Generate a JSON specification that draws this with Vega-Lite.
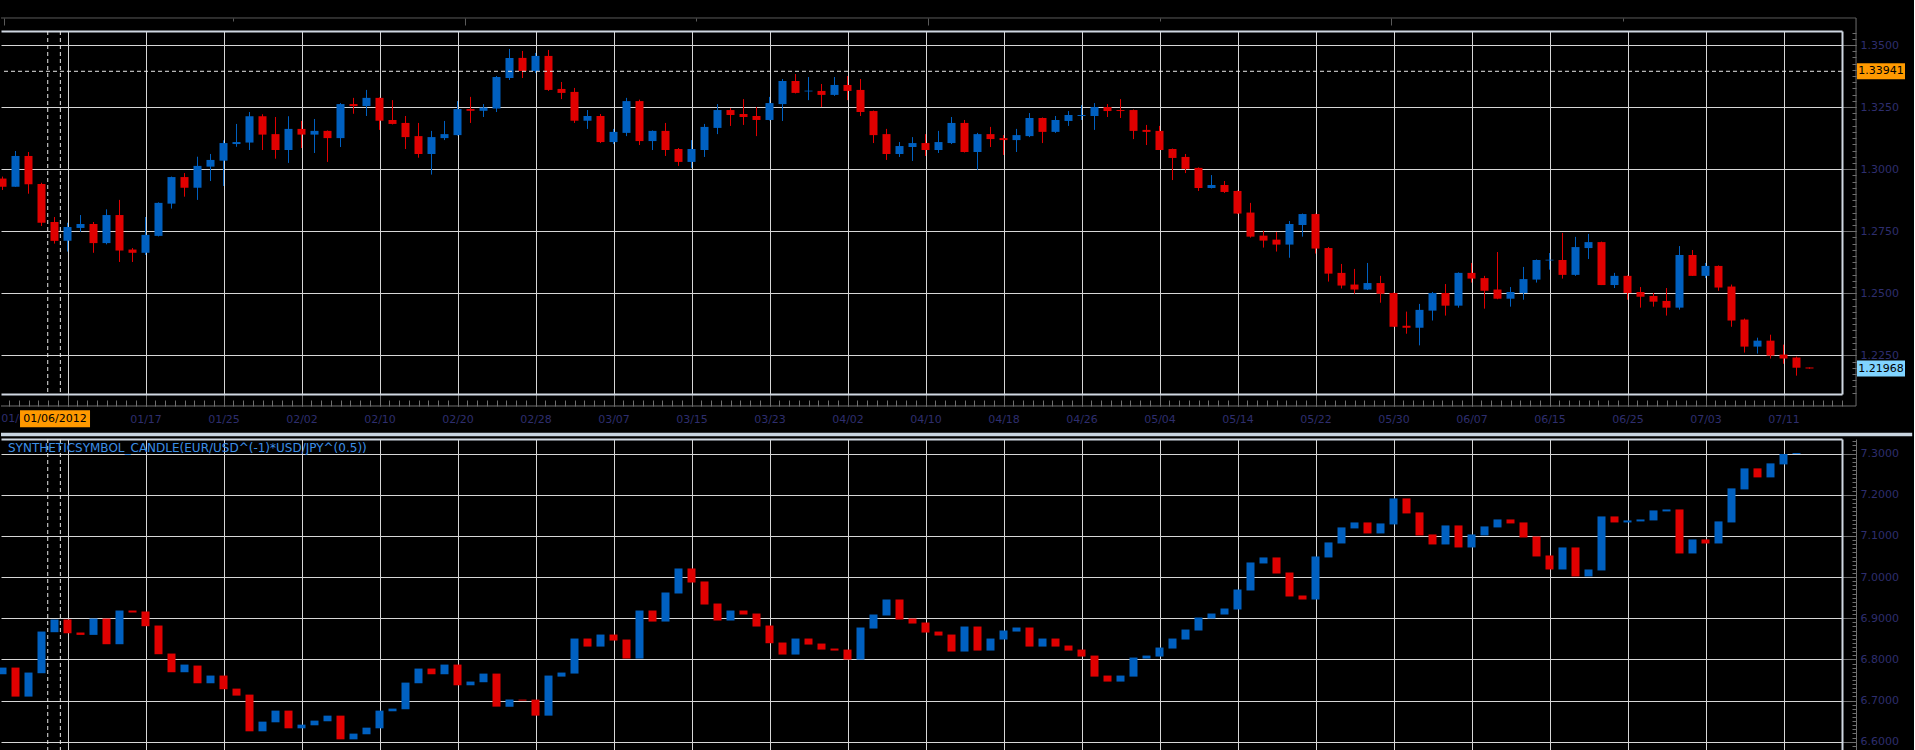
{
"$schema":"https://vega.github.io/schema/vega-lite/v6.json",
"background":"#000000",
"padding":{"left":-30,"top":17,"right":0,"bottom":0},
"config":{"view":{"stroke":null},"text":{"font":"DejaVu Sans"},"axis":{"labelFont":"DejaVu Sans","labelFontSize":11,"labelColor":"#2e2e6e","labelFlush":false,"labelOverlap":false}},
"datasets":{
"top":[
{"i":0,"o":1.2962,"h":1.297,"l":1.2916,"c":1.2929},
{"i":1,"o":1.2929,"h":1.3073,"l":1.2929,"c":1.3053},
{"i":2,"o":1.3053,"h":1.3069,"l":1.2901,"c":1.2939},
{"i":3,"o":1.294,"h":1.2945,"l":1.2771,"c":1.2784},
{"i":4,"o":1.2787,"h":1.2807,"l":1.27,"c":1.2711},
{"i":5,"o":1.2711,"h":1.2784,"l":1.2668,"c":1.2767},
{"i":6,"o":1.2763,"h":1.2815,"l":1.2747,"c":1.2779},
{"i":7,"o":1.2779,"h":1.2787,"l":1.2663,"c":1.2702},
{"i":8,"o":1.2702,"h":1.2838,"l":1.2697,"c":1.2815},
{"i":9,"o":1.2815,"h":1.2876,"l":1.2626,"c":1.2672},
{"i":10,"o":1.2676,"h":1.2682,"l":1.2626,"c":1.2663},
{"i":11,"o":1.2663,"h":1.2807,"l":1.2654,"c":1.2735},
{"i":12,"o":1.2731,"h":1.2866,"l":1.2729,"c":1.2864},
{"i":13,"o":1.2861,"h":1.297,"l":1.2841,"c":1.2968},
{"i":14,"o":1.2968,"h":1.2984,"l":1.2889,"c":1.2925},
{"i":15,"o":1.2925,"h":1.305,"l":1.2876,"c":1.3013},
{"i":16,"o":1.301,"h":1.3061,"l":1.2952,"c":1.3037},
{"i":17,"o":1.3034,"h":1.3116,"l":1.2932,"c":1.3105},
{"i":18,"o":1.3101,"h":1.3182,"l":1.309,"c":1.3109},
{"i":19,"o":1.3107,"h":1.323,"l":1.3077,"c":1.3213},
{"i":20,"o":1.3213,"h":1.3221,"l":1.3077,"c":1.3139},
{"i":21,"o":1.3141,"h":1.321,"l":1.3042,"c":1.3077},
{"i":22,"o":1.3077,"h":1.3213,"l":1.3025,"c":1.3162},
{"i":23,"o":1.3162,"h":1.3194,"l":1.3085,"c":1.3139},
{"i":24,"o":1.3139,"h":1.3202,"l":1.3065,"c":1.3154},
{"i":25,"o":1.3154,"h":1.3156,"l":1.3029,"c":1.3125},
{"i":26,"o":1.3125,"h":1.3266,"l":1.3089,"c":1.3262},
{"i":27,"o":1.3262,"h":1.3287,"l":1.3223,"c":1.3254},
{"i":28,"o":1.3254,"h":1.3319,"l":1.3214,"c":1.3287},
{"i":29,"o":1.3287,"h":1.3289,"l":1.3158,"c":1.3195},
{"i":30,"o":1.3198,"h":1.3278,"l":1.318,"c":1.3182},
{"i":31,"o":1.3186,"h":1.3214,"l":1.3081,"c":1.3129},
{"i":32,"o":1.3133,"h":1.3186,"l":1.3046,"c":1.3061},
{"i":33,"o":1.3061,"h":1.3154,"l":1.2978,"c":1.3129},
{"i":34,"o":1.3125,"h":1.3194,"l":1.3117,"c":1.3141},
{"i":35,"o":1.3137,"h":1.3274,"l":1.3135,"c":1.3242},
{"i":36,"o":1.3242,"h":1.3291,"l":1.3186,"c":1.3235},
{"i":37,"o":1.3235,"h":1.3262,"l":1.321,"c":1.3248},
{"i":38,"o":1.3244,"h":1.3375,"l":1.323,"c":1.3371},
{"i":39,"o":1.3367,"h":1.3484,"l":1.3359,"c":1.3448},
{"i":40,"o":1.3448,"h":1.3476,"l":1.3367,"c":1.3395},
{"i":41,"o":1.3395,"h":1.3468,"l":1.3387,"c":1.3456},
{"i":42,"o":1.3456,"h":1.348,"l":1.3315,"c":1.3319},
{"i":43,"o":1.3323,"h":1.3351,"l":1.3282,"c":1.3307},
{"i":44,"o":1.3311,"h":1.3327,"l":1.3186,"c":1.3195},
{"i":45,"o":1.3195,"h":1.3238,"l":1.3162,"c":1.3214},
{"i":46,"o":1.3214,"h":1.3222,"l":1.3105,"c":1.3109},
{"i":47,"o":1.3109,"h":1.3162,"l":1.3101,"c":1.315},
{"i":48,"o":1.3146,"h":1.3287,"l":1.3133,"c":1.3274},
{"i":49,"o":1.3274,"h":1.328,"l":1.3097,"c":1.3113},
{"i":50,"o":1.3113,"h":1.3156,"l":1.3077,"c":1.3154},
{"i":51,"o":1.3154,"h":1.3186,"l":1.3053,"c":1.3077},
{"i":52,"o":1.3081,"h":1.3085,"l":1.3013,"c":1.3029},
{"i":53,"o":1.3029,"h":1.3117,"l":1.3005,"c":1.3081},
{"i":54,"o":1.3077,"h":1.3182,"l":1.3049,"c":1.317},
{"i":55,"o":1.3166,"h":1.3262,"l":1.3141,"c":1.3238},
{"i":56,"o":1.3238,"h":1.3246,"l":1.3174,"c":1.3218},
{"i":57,"o":1.3222,"h":1.3282,"l":1.3178,"c":1.321},
{"i":58,"o":1.3214,"h":1.325,"l":1.3133,"c":1.3198},
{"i":59,"o":1.3198,"h":1.3291,"l":1.3196,"c":1.3266},
{"i":60,"o":1.3262,"h":1.3363,"l":1.3194,"c":1.3355},
{"i":61,"o":1.3355,"h":1.3383,"l":1.3305,"c":1.3307},
{"i":62,"o":1.3313,"h":1.3371,"l":1.3278,"c":1.3316},
{"i":63,"o":1.3315,"h":1.3343,"l":1.325,"c":1.3299},
{"i":64,"o":1.3299,"h":1.3371,"l":1.3295,"c":1.3339},
{"i":65,"o":1.3339,"h":1.3375,"l":1.3278,"c":1.3315},
{"i":66,"o":1.3319,"h":1.3363,"l":1.3214,"c":1.323},
{"i":67,"o":1.3234,"h":1.3236,"l":1.3105,"c":1.3137},
{"i":68,"o":1.3141,"h":1.3162,"l":1.3037,"c":1.3061},
{"i":69,"o":1.3061,"h":1.3109,"l":1.3049,"c":1.3093},
{"i":70,"o":1.3089,"h":1.3129,"l":1.3033,"c":1.3105},
{"i":71,"o":1.3105,"h":1.3141,"l":1.3053,"c":1.3077},
{"i":72,"o":1.3077,"h":1.3154,"l":1.3065,"c":1.3109},
{"i":73,"o":1.3105,"h":1.321,"l":1.3101,"c":1.3186},
{"i":74,"o":1.3186,"h":1.3198,"l":1.3067,"c":1.3069},
{"i":75,"o":1.3069,"h":1.3146,"l":1.2997,"c":1.3141},
{"i":76,"o":1.3141,"h":1.317,"l":1.3089,"c":1.3121},
{"i":77,"o":1.3125,"h":1.3137,"l":1.3057,"c":1.3117},
{"i":78,"o":1.3117,"h":1.3162,"l":1.3069,"c":1.3137},
{"i":79,"o":1.3133,"h":1.3226,"l":1.3129,"c":1.3206},
{"i":80,"o":1.3206,"h":1.3208,"l":1.3105,"c":1.315},
{"i":81,"o":1.315,"h":1.3214,"l":1.3146,"c":1.3198},
{"i":82,"o":1.3194,"h":1.3234,"l":1.3174,"c":1.3218},
{"i":83,"o":1.3214,"h":1.3258,"l":1.3198,"c":1.3218},
{"i":84,"o":1.3214,"h":1.3266,"l":1.3158,"c":1.325},
{"i":85,"o":1.325,"h":1.3262,"l":1.321,"c":1.3234},
{"i":86,"o":1.3238,"h":1.3282,"l":1.3206,"c":1.3234},
{"i":87,"o":1.3238,"h":1.324,"l":1.3121,"c":1.3154},
{"i":88,"o":1.3158,"h":1.3178,"l":1.3097,"c":1.315},
{"i":89,"o":1.3154,"h":1.3174,"l":1.3077,"c":1.3077},
{"i":90,"o":1.3081,"h":1.3083,"l":1.2956,"c":1.3045},
{"i":91,"o":1.3049,"h":1.3061,"l":1.2984,"c":1.3001},
{"i":92,"o":1.3005,"h":1.3007,"l":1.2912,"c":1.2924},
{"i":93,"o":1.2924,"h":1.2976,"l":1.2922,"c":1.2936},
{"i":94,"o":1.2936,"h":1.2952,"l":1.2904,"c":1.2908},
{"i":95,"o":1.2912,"h":1.2914,"l":1.2819,"c":1.2821},
{"i":96,"o":1.2825,"h":1.2864,"l":1.2724,"c":1.2728},
{"i":97,"o":1.2732,"h":1.2752,"l":1.2684,"c":1.2712},
{"i":98,"o":1.2716,"h":1.2747,"l":1.2668,"c":1.2696},
{"i":99,"o":1.2696,"h":1.2791,"l":1.2643,"c":1.2779},
{"i":100,"o":1.2775,"h":1.2821,"l":1.2728,"c":1.2819},
{"i":101,"o":1.2819,"h":1.2821,"l":1.266,"c":1.268},
{"i":102,"o":1.2682,"h":1.2686,"l":1.2547,"c":1.2579},
{"i":103,"o":1.2582,"h":1.2618,"l":1.2519,"c":1.2531},
{"i":104,"o":1.2535,"h":1.2598,"l":1.2498,"c":1.2515},
{"i":105,"o":1.2515,"h":1.2622,"l":1.2513,"c":1.2541},
{"i":106,"o":1.2541,"h":1.257,"l":1.2462,"c":1.2498},
{"i":107,"o":1.2501,"h":1.2503,"l":1.2365,"c":1.2365},
{"i":108,"o":1.2369,"h":1.2426,"l":1.2337,"c":1.2361},
{"i":109,"o":1.2361,"h":1.2457,"l":1.229,"c":1.2433},
{"i":110,"o":1.243,"h":1.2505,"l":1.239,"c":1.2501},
{"i":111,"o":1.2501,"h":1.2537,"l":1.241,"c":1.245},
{"i":112,"o":1.245,"h":1.2584,"l":1.2442,"c":1.2582},
{"i":113,"o":1.2582,"h":1.2622,"l":1.2543,"c":1.2559},
{"i":114,"o":1.2561,"h":1.257,"l":1.2438,"c":1.251},
{"i":115,"o":1.2515,"h":1.2666,"l":1.2476,"c":1.2478},
{"i":116,"o":1.2478,"h":1.2525,"l":1.2446,"c":1.2505},
{"i":117,"o":1.2501,"h":1.2606,"l":1.2474,"c":1.2557},
{"i":118,"o":1.2555,"h":1.2636,"l":1.2543,"c":1.2634},
{"i":119,"o":1.2632,"h":1.2662,"l":1.2595,"c":1.2635},
{"i":120,"o":1.2634,"h":1.2743,"l":1.2559,"c":1.2574},
{"i":121,"o":1.2574,"h":1.2727,"l":1.257,"c":1.2686},
{"i":122,"o":1.2682,"h":1.2739,"l":1.2638,"c":1.2706},
{"i":123,"o":1.2706,"h":1.2708,"l":1.2533,"c":1.2533},
{"i":124,"o":1.2533,"h":1.2582,"l":1.2521,"c":1.257},
{"i":125,"o":1.257,"h":1.2572,"l":1.2474,"c":1.2501},
{"i":126,"o":1.2505,"h":1.2525,"l":1.2442,"c":1.2486},
{"i":127,"o":1.2489,"h":1.2501,"l":1.2446,"c":1.2466},
{"i":128,"o":1.2469,"h":1.2521,"l":1.241,"c":1.2442},
{"i":129,"o":1.2442,"h":1.269,"l":1.2434,"c":1.2654},
{"i":130,"o":1.2654,"h":1.2674,"l":1.257,"c":1.257},
{"i":131,"o":1.257,"h":1.2622,"l":1.2561,"c":1.261},
{"i":132,"o":1.261,"h":1.2612,"l":1.251,"c":1.2523},
{"i":133,"o":1.2527,"h":1.2535,"l":1.2365,"c":1.239},
{"i":134,"o":1.2394,"h":1.2398,"l":1.2261,"c":1.2285},
{"i":135,"o":1.2285,"h":1.2321,"l":1.2257,"c":1.2309},
{"i":136,"o":1.2309,"h":1.2333,"l":1.2237,"c":1.2249},
{"i":137,"o":1.2253,"h":1.2293,"l":1.2216,"c":1.2237},
{"i":138,"o":1.2241,"h":1.2245,"l":1.2168,"c":1.22},
{"i":139,"o":1.2201,"h":1.2201,"l":1.2196,"c":1.21968}
],
"bot":[
{"i":0,"o":6.7639,"c":6.7801},{"i":1,"o":6.7801,"c":6.7096},{"i":2,"o":6.7096,"c":6.768},{"i":3,"o":6.7664,"c":6.8677},
{"i":4,"o":6.8661,"c":6.8969},{"i":5,"o":6.8969,"c":6.8637},{"i":6,"o":6.8653,"c":6.8596},{"i":7,"o":6.8596,"c":6.8994},
{"i":8,"o":6.8994,"c":6.8369},{"i":9,"o":6.8369,"c":6.9188},{"i":10,"o":6.9188,"c":6.914},{"i":11,"o":6.9164,"c":6.8807},
{"i":12,"o":6.8823,"c":6.8126},{"i":13,"o":6.8142,"c":6.7688},{"i":14,"o":6.7688,"c":6.7874},{"i":15,"o":6.785,"c":6.742},
{"i":16,"o":6.742,"c":6.7607},{"i":17,"o":6.7607,"c":6.7274},{"i":18,"o":6.729,"c":6.712},{"i":19,"o":6.7144,"c":6.6252},
{"i":20,"o":6.6252,"c":6.6487},{"i":21,"o":6.6471,"c":6.6755},{"i":22,"o":6.6755,"c":6.6325},{"i":23,"o":6.6325,"c":6.6414},
{"i":24,"o":6.6398,"c":6.6512},{"i":25,"o":6.6496,"c":6.6633},{"i":26,"o":6.6633,"c":6.6057},{"i":27,"o":6.6057,"c":6.6196},
{"i":28,"o":6.618,"c":6.6341},{"i":29,"o":6.6325,"c":6.6755},{"i":30,"o":6.6739,"c":6.6804},{"i":31,"o":6.6788,"c":6.7436},
{"i":32,"o":6.742,"c":6.7777},{"i":33,"o":6.7777,"c":6.7639},{"i":34,"o":6.7639,"c":6.7874},{"i":35,"o":6.7874,"c":6.7371},
{"i":36,"o":6.7371,"c":6.7461},{"i":37,"o":6.7445,"c":6.7655},{"i":38,"o":6.7655,"c":6.6852},{"i":39,"o":6.6852,"c":6.7023},
{"i":40,"o":6.7023,"c":6.6999},{"i":41,"o":6.7023,"c":6.6633},{"i":42,"o":6.6633,"c":6.7607},{"i":43,"o":6.7582,"c":6.768},
{"i":44,"o":6.7656,"c":6.8507},{"i":45,"o":6.8507,"c":6.8312},{"i":46,"o":6.8312,"c":6.8604},{"i":47,"o":6.8604,"c":6.8458},
{"i":48,"o":6.8483,"c":6.802},{"i":49,"o":6.802,"c":6.9188},{"i":50,"o":6.9188,"c":6.892},{"i":51,"o":6.892,"c":6.9626},
{"i":52,"o":6.9602,"c":7.021},{"i":53,"o":7.021,"c":6.9869},{"i":54,"o":6.9894,"c":6.9334},{"i":55,"o":6.9358,"c":6.8945},
{"i":56,"o":6.8945,"c":6.9188},{"i":57,"o":6.9188,"c":6.9091},{"i":58,"o":6.9115,"c":6.8799},{"i":59,"o":6.8823,"c":6.8393},
{"i":60,"o":6.841,"c":6.8118},{"i":61,"o":6.8118,"c":6.8507},{"i":62,"o":6.8507,"c":6.8361},{"i":63,"o":6.8385,"c":6.8239},
{"i":64,"o":6.8264,"c":6.8215},{"i":65,"o":6.8239,"c":6.7996},{"i":66,"o":6.7996,"c":6.8775},{"i":67,"o":6.875,"c":6.9091},
{"i":68,"o":6.9067,"c":6.9456},{"i":69,"o":6.9456,"c":6.8969},{"i":70,"o":6.8994,"c":6.8872},{"i":71,"o":6.8896,"c":6.8653},
{"i":72,"o":6.8677,"c":6.858},{"i":73,"o":6.8604,"c":6.8191},{"i":74,"o":6.8191,"c":6.8799},{"i":75,"o":6.8799,"c":6.8215},
{"i":76,"o":6.8215,"c":6.8507},{"i":77,"o":6.8483,"c":6.8702},{"i":78,"o":6.8677,"c":6.8775},{"i":79,"o":6.8775,"c":6.8312},
{"i":80,"o":6.8312,"c":6.8507},{"i":81,"o":6.8507,"c":6.8312},{"i":82,"o":6.8337,"c":6.8215},{"i":83,"o":6.8239,"c":6.8069},
{"i":84,"o":6.8093,"c":6.7582},{"i":85,"o":6.7607,"c":6.7461},{"i":86,"o":6.7461,"c":6.7607},{"i":87,"o":6.7582,"c":6.8045},
{"i":88,"o":6.802,"c":6.8093},{"i":89,"o":6.8069,"c":6.8288},{"i":90,"o":6.8264,"c":6.8507},{"i":91,"o":6.8483,"c":6.8726},
{"i":92,"o":6.8702,"c":6.9018},{"i":93,"o":6.8994,"c":6.9115},{"i":94,"o":6.9091,"c":6.9237},{"i":95,"o":6.9213,"c":6.9699},
{"i":96,"o":6.9675,"c":7.0356},{"i":97,"o":7.0332,"c":7.0478},{"i":98,"o":7.0478,"c":7.0088},{"i":99,"o":7.0112,"c":6.9529},
{"i":100,"o":6.9553,"c":6.9456},{"i":101,"o":6.9456,"c":7.0502},{"i":102,"o":7.0478,"c":7.0843},{"i":103,"o":7.0818,"c":7.1208},
{"i":104,"o":7.1184,"c":7.1329},{"i":105,"o":7.1329,"c":7.1062},{"i":106,"o":7.1062,"c":7.1305},{"i":107,"o":7.1281,"c":7.1913},
{"i":108,"o":7.1913,"c":7.1548},{"i":109,"o":7.1573,"c":7.1013},{"i":110,"o":7.1037,"c":7.0794},{"i":111,"o":7.0794,"c":7.1256},
{"i":112,"o":7.1256,"c":7.0721},{"i":113,"o":7.0721,"c":7.1037},{"i":114,"o":7.1013,"c":7.1232},{"i":115,"o":7.1208,"c":7.1402},
{"i":116,"o":7.1402,"c":7.1305},{"i":117,"o":7.1329,"c":7.0964},{"i":118,"o":7.0989,"c":7.0502},{"i":119,"o":7.0526,"c":7.0186},
{"i":120,"o":7.0186,"c":7.0721},{"i":121,"o":7.0721,"c":7.0016},{"i":122,"o":7.0016,"c":7.0186},{"i":123,"o":7.0162,"c":7.1475},
{"i":124,"o":7.1475,"c":7.1329},{"i":125,"o":7.1329,"c":7.1378},{"i":126,"o":7.1354,"c":7.1402},{"i":127,"o":7.1378,"c":7.1621},
{"i":128,"o":7.1597,"c":7.1645},{"i":129,"o":7.1645,"c":7.0575},{"i":130,"o":7.0575,"c":7.0916},{"i":131,"o":7.0916,"c":7.0818},
{"i":132,"o":7.0818,"c":7.1354},{"i":133,"o":7.1329,"c":7.2157},{"i":134,"o":7.2132,"c":7.2643},{"i":135,"o":7.2643,"c":7.2424},
{"i":136,"o":7.2424,"c":7.2765},{"i":137,"o":7.274,"c":7.2992},{"i":138,"o":7.2992,"c":7.3016}
]
},
"spacing":45,
"bounds":"flush",
"vconcat":[
{
"width":1841,"height":363,
"resolve":{"axis":{"x":"independent","y":"independent"}},
"layer":[
{"data":{"values":[{"s":1}]},
"mark":{"type":"rule","strokeWidth":1,"color":"#5a5a5a"},
"encoding":{
"x":{"datum":-0.1154,"type":"quantitative","scale":{"domain":[-0.1154,141.5],"nice":false,"zero":false,"padding":0},"axis":null},
"x2":{"datum":142.58},
"y":{"datum":1.36088,"type":"quantitative","scale":{"domain":[1.20941,1.35564],"nice":false,"zero":false,"padding":0},"axis":null}
}},
{"data":{"values":[{"s":1}]},
"mark":{"type":"rule","strokeWidth":1,"color":"#6e6e6e"},
"encoding":{
"x":{"datum":-0.1154,"type":"quantitative","axis":null},
"x2":{"datum":142.58},
"y":{"datum":1.20458,"type":"quantitative","axis":null}
}},
{"data":{"values":[{"s":1}]},
"mark":{"type":"rule","strokeWidth":1,"color":"#6e6e6e"},
"encoding":{
"x":{"datum":142.58,"type":"quantitative","axis":null},
"y":{"datum":1.36088,"type":"quantitative","axis":null},
"y2":{"datum":1.20458}
}},
{"data":{"name":"top"},
"mark":{"type":"rule","strokeWidth":1},
"encoding":{
"x":{"field":"i","type":"quantitative",
"axis":{"orient":"bottom","offset":0,"values":[5,11,17,23,29,35,41,47,53,59,65,71,77,83,89,95,101,107,113,119,125,131,137],"grid":true,"gridColor":"#d6d6d6","gridWidth":1,"ticks":true,"tickSize":12,"tickColor":"#6e6e6e","domain":true,"domainColor":"#d0d8e2","domainWidth":2,"labelPadding":7,"labelExpr":"['01/09','01/17','01/25','02/02','02/10','02/20','02/28','03/07','03/15','03/23','04/02','04/10','04/18','04/26','05/04','05/14','05/22','05/30','06/07','06/15','06/25','07/03','07/11'][round((datum.value-5)/6)]","title":null}},
"y":{"field":"l","type":"quantitative",
"axis":{"orient":"right","offset":0,"values":[1.225,1.25,1.275,1.3,1.325,1.35],"format":".4f","grid":true,"gridColor":"#d6d6d6","gridWidth":1,"ticks":true,"tickSize":14,"tickColor":"#6e6e6e","domain":true,"domainColor":"#d0d8e2","domainWidth":2,"labelPadding":4,"title":null}},
"y2":{"field":"h"},
"color":{"condition":{"test":"datum.c >= datum.o","value":"#0060c0"},"value":"#e00000"}
}},
{"data":{"name":"top"},
"mark":{"type":"bar","size":8,"minBandSize":1},
"encoding":{
"x":{"field":"i","type":"quantitative",
"axis":{"orient":"bottom","offset":6,"values":[0.5,1.25,2,2.75,3.5,4.25,5,5.75,6.5,7.25,8,8.75,9.5,10.25,11,11.75,12.5,13.25,14,14.75,15.5,16.25,17,17.75,18.5,19.25,20,20.75,21.5,22.25,23,23.75,24.5,25.25,26,26.75,27.5,28.25,29,29.75,30.5,31.25,32,32.75,33.5,34.25,35,35.75,36.5,37.25,38,38.75,39.5,40.25,41,41.75,42.5,43.25,44,44.75,45.5,46.25,47,47.75,48.5,49.25,50,50.75,51.5,52.25,53,53.75,54.5,55.25,56,56.75,57.5,58.25,59,59.75,60.5,61.25,62,62.75,63.5,64.25,65,65.75,66.5,67.25,68,68.75,69.5,70.25,71,71.75,72.5,73.25,74,74.75,75.5,76.25,77,77.75,78.5,79.25,80,80.75,81.5,82.25,83,83.75,84.5,85.25,86,86.75,87.5,88.25,89,89.75,90.5,91.25,92,92.75,93.5,94.25,95,95.75,96.5,97.25,98,98.75,99.5,100.25,101,101.75,102.5,103.25,104,104.75,105.5,106.25,107,107.75,108.5,109.25,110,110.75,111.5,112.25,113,113.75,114.5,115.25,116,116.75,117.5,118.25,119,119.75,120.5,121.25,122,122.75,123.5,124.25,125,125.75,126.5,127.25,128,128.75,129.5,130.25,131,131.75,132.5,133.25,134,134.75,135.5,136.25,137,137.75,138.5,139.25,140,140.75,141.5],"grid":false,"ticks":true,"tickSize":6,"tickColor":"#6e6e6e","domain":false,"labels":false,"title":null}},
"y":{"field":"o","type":"quantitative",
"axis":{"orient":"right","offset":10,"values":[1.21,1.2125,1.215,1.2175,1.22,1.2225,1.225,1.2275,1.23,1.2325,1.235,1.2375,1.24,1.2425,1.245,1.2475,1.25,1.2525,1.255,1.2575,1.26,1.2625,1.265,1.2675,1.27,1.2725,1.275,1.2775,1.28,1.2825,1.285,1.2875,1.29,1.2925,1.295,1.2975,1.3,1.3025,1.305,1.3075,1.31,1.3125,1.315,1.3175,1.32,1.3225,1.325,1.3275,1.33,1.3325,1.335,1.3375,1.34,1.3425,1.345,1.3475,1.35,1.3525,1.355],"grid":false,"ticks":true,"tickSize":4,"tickColor":"#6e6e6e","domain":false,"labels":false,"title":null}},
"y2":{"field":"c"},
"color":{"condition":{"test":"datum.c >= datum.o","value":"#0060c0"},"value":"#e00000"}
}},
{"data":{"values":[{"p":1.33941}]},
"mark":{"type":"rule","strokeWidth":1,"strokeDash":[4,3],"color":"#e8e8e8"},
"encoding":{
"y":{"field":"p","type":"quantitative","axis":null}
}},
{"data":{"values":[{"cx":3.48},{"cx":4.45}]},
"mark":{"type":"rule","strokeWidth":1,"strokeDash":[4,3],"color":"#e8e8e8"},
"encoding":{
"x":{"field":"cx","type":"quantitative","axis":{"orient":"top","offset":10,"values":[17.73,53.35,89.04,124.65],"ticks":true,"tickSize":3,"tickColor":"#5a5a5a","labels":false,"grid":false,"domain":false,"title":null}}
}},
{"data":{"values":[{"a":-2.4231}]},
"mark":{"type":"rule","strokeWidth":1,"opacity":0},
"encoding":{
"x":{"field":"a","type":"quantitative","axis":null}
}},
{"data":{"values":[{"p":1.33941,"t":"1.33941","k":"cross"},{"p":1.21968,"t":"1.21968","k":"last"}]},
"mark":{"type":"tick","orient":"horizontal","size":48,"thickness":16,"opacity":1},
"encoding":{
"x":{"datum":144.5,"type":"quantitative","axis":{"orient":"top","offset":0,"ticks":false,"labels":false,"grid":false,"domain":true,"domainColor":"#d0d8e2","domainWidth":2,"title":null}},
"y":{"field":"p","type":"quantitative","axis":null},
"color":{"field":"k","type":"nominal","scale":{"domain":["cross","last"],"range":["#ff9900","#80d4ff"]},"legend":null}
}},
{"data":{"values":[{"p":1.33941,"t":"1.33941"},{"p":1.21968,"t":"1.21968"}]},
"mark":{"type":"text","align":"center","baseline":"middle","font":"DejaVu Sans","fontSize":11,"color":"#000000"},
"encoding":{
"x":{"datum":144.5,"type":"quantitative","axis":null},
"y":{"field":"p","type":"quantitative","axis":null},
"text":{"field":"t"}
}},
{"data":{"values":[{"d":-0.1,"t":"01/02"}]},
"mark":{"type":"text","align":"left","baseline":"middle","font":"DejaVu Sans","fontSize":11,"color":"#2e2e6e"},
"encoding":{
"x":{"field":"d","type":"quantitative","axis":null},
"y":{"datum":1.19946,"type":"quantitative","axis":null},
"text":{"field":"t"}
}},
{"data":{"values":[{"d":4.04,"t":"01/06/2012"}]},
"mark":{"type":"tick","orient":"horizontal","size":70,"thickness":17,"color":"#ff9900","opacity":1},
"encoding":{
"x":{"field":"d","type":"quantitative","axis":{"orient":"top","offset":6,"values":[0.115,35.58,71.19,106.81],"ticks":true,"tickSize":7,"tickColor":"#5a5a5a","labels":false,"grid":false,"domain":false,"title":null}},
"y":{"datum":1.19946,"type":"quantitative","axis":null}
}},
{"data":{"values":[{"d":4.04,"t":"01/06/2012"}]},
"mark":{"type":"text","align":"center","baseline":"middle","font":"DejaVu Sans","fontSize":11,"color":"#000000"},
"encoding":{
"x":{"field":"d","type":"quantitative","axis":null},
"y":{"datum":1.19946,"type":"quantitative","axis":null},
"text":{"field":"t"}
}}
]
},
{
"width":1841,"height":312,
"resolve":{"axis":{"x":"independent","y":"independent"}},
"layer":[
{"data":{"name":"bot"},
"mark":{"type":"bar","size":8,"minBandSize":1},
"encoding":{
"x":{"field":"i","type":"quantitative","scale":{"domain":[-0.1154,141.5],"nice":false,"zero":false,"padding":0},
"axis":{"orient":"bottom","values":[5,11,17,23,29,35,41,47,53,59,65,71,77,83,89,95,101,107,113,119,125,131,137],"grid":true,"gridColor":"#d6d6d6","gridWidth":1,"ticks":false,"labels":false,"domain":false,"title":null}},
"y":{"field":"o","type":"quantitative","scale":{"domain":[6.57734,7.33573],"nice":false,"zero":false,"padding":0},
"axis":{"orient":"right","offset":0,"values":[6.6,6.7,6.8,6.9,7.0,7.1,7.2,7.3],"format":".4f","grid":true,"gridColor":"#d6d6d6","gridWidth":1,"ticks":true,"tickSize":14,"tickColor":"#6e6e6e","domain":true,"domainColor":"#d0d8e2","domainWidth":2,"labelPadding":4,"title":null}},
"y2":{"field":"c"},
"color":{"condition":{"test":"datum.c >= datum.o","value":"#0060c0"},"value":"#e00000"}
}},
{"data":{"values":[{"cx":3.48},{"cx":4.45}]},
"mark":{"type":"rule","strokeWidth":1,"strokeDash":[4,3],"color":"#e8e8e8"},
"encoding":{
"x":{"field":"cx","type":"quantitative","axis":{"orient":"top","offset":0,"ticks":false,"labels":false,"grid":false,"domain":true,"domainColor":"#d0d8e2","domainWidth":2,"title":null}}
}},
{"data":{"values":[{"s":1}]},
"mark":{"type":"rule","strokeWidth":3.5,"color":"#c8d4e0"},
"encoding":{
"x":{"datum":-0.1154,"type":"quantitative","axis":null},
"x2":{"datum":146.9},
"y":{"datum":7.34667,"type":"quantitative","axis":{"orient":"right","offset":10,"values":[6.58,6.59,6.6,6.61,6.62,6.63,6.64,6.65,6.66,6.67,6.68,6.69,6.7,6.71,6.72,6.73,6.74,6.75,6.76,6.77,6.78,6.79,6.8,6.81,6.82,6.83,6.84,6.85,6.86,6.87,6.88,6.89,6.9,6.91,6.92,6.93,6.94,6.95,6.96,6.97,6.98,6.99,7.0,7.01,7.02,7.03,7.04,7.05,7.06,7.07,7.08,7.09,7.1,7.11,7.12,7.13,7.14,7.15,7.16,7.17,7.18,7.19,7.2,7.21,7.22,7.23,7.24,7.25,7.26,7.27,7.28,7.29,7.3,7.31,7.32,7.33],"grid":false,"ticks":true,"tickSize":4,"tickColor":"#6e6e6e","domain":false,"labels":false,"title":null}}
}},
{"data":{"values":[{"t":"SYNTHETICSYMBOL_CANDLE(EUR/USD^(-1)*USD/JPY^(0.5))"}]},
"mark":{"type":"text","align":"left","baseline":"middle","font":"DejaVu Sans","fontSize":12,"color":"#3c8fe6"},
"encoding":{
"x":{"datum":0.42,"type":"quantitative","axis":null},
"y":{"datum":7.3146,"type":"quantitative","axis":{"orient":"right","offset":14,"ticks":false,"labels":false,"grid":false,"domain":true,"domainColor":"#6e6e6e","title":null}},
"text":{"field":"t"}
}}
]
}
]
}
